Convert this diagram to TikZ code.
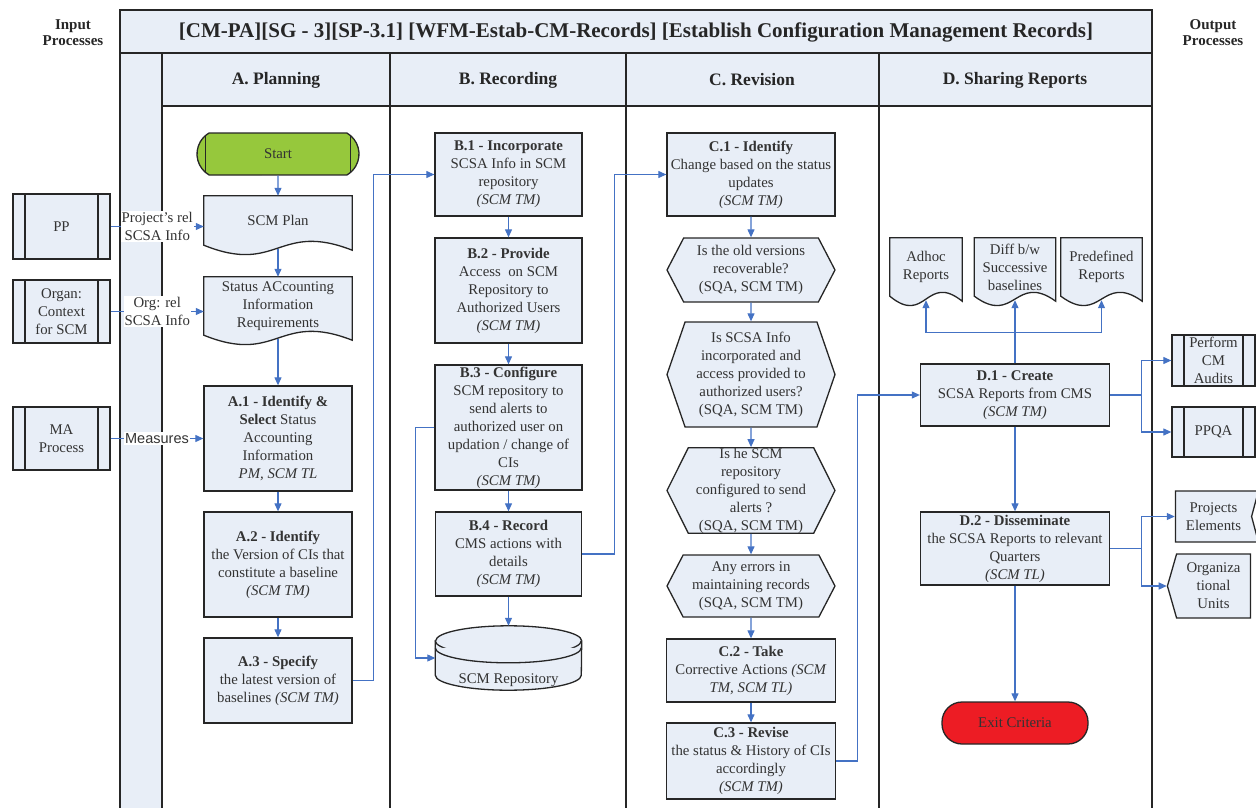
\documentclass[tikz,border=0pt]{standalone}
\usepackage{fontspec}
\setmainfont{Liberation Serif}
\newfontfamily\arialfont{Liberation Sans}
\usepackage{tikz}
\usetikzlibrary{arrows.meta}
\usetikzlibrary{shapes.geometric,shapes.symbols,shapes.misc,calc,backgrounds}

\definecolor{lanefill}{RGB}{232,238,247}
\definecolor{flowblue}{RGB}{68,114,196}
\definecolor{startgreen}{RGB}{150,200,60}
\definecolor{exitred}{RGB}{237,28,36}
\definecolor{framegray}{RGB}{38,38,38}
\definecolor{textgray}{RGB}{51,51,51}

\newcommand{\bodyfont}{\fontsize{14.8}{18}\selectfont}
\newcommand{\docshape}[1]{\filldraw[shapeline] (#1.north west) -- (#1.north east) -- ($(#1.south east)+(0,5)$) .. controls ($(#1.south)+(0,-24)$) and ($(#1.south)+(0,30)$) .. (#1.south west) -- cycle;}
\newcommand{\cylshape}[1]{%
  \filldraw[shapeline] ($(#1.north west)+(0,15)$) -- ($(#1.south west)+(0,-15)$) arc[start angle=180, end angle=360, x radius=73pt, y radius=15pt] -- ($(#1.north east)+(0,15)$) arc[start angle=0, end angle=180, x radius=73pt, y radius=15pt] -- cycle;
  \draw[shapeline] ($(#1.north west)+(0,15)$) arc[start angle=180, end angle=360, x radius=73pt, y radius=15pt];
  \draw[shapeline] ($(#1.north west)+(0,22)$) arc[start angle=180, end angle=360, x radius=73pt, y radius=15pt];}

\begin{document}
\begin{tikzpicture}[x=1pt, y=-1pt]
    \tikzstyle{block} = [rectangle, draw=framegray, line width=1.3pt, fill=lanefill, text=textgray, align=center, inner xsep=1pt, inner ysep=0pt, font=\bodyfont];
    \tikzstyle{decision} = [block, signal, signal to=west and east, signal from=nowhere, signal pointer angle=125, minimum width=168pt];
    \tikzstyle{procbox} = [block, path picture={\draw[framegray, line width=1.3pt] ([xshift=12pt]path picture bounding box.north west) -- ([xshift=12pt]path picture bounding box.south west) ([xshift=-12pt]path picture bounding box.north east) -- ([xshift=-12pt]path picture bounding box.south east);}];
    \tikzstyle{docnode} = [align=center, text=textgray, font=\bodyfont, inner sep=0pt];
    \tikzstyle{shapeline} = [draw=framegray, fill=lanefill, line width=1.3pt];
    \tikzstyle{line} = [draw=flowblue, line width=1.1pt, -{Triangle[length=8pt,width=7pt]}];
    \tikzstyle{frame} = [draw=framegray, line width=1.8pt];
    \tikzstyle{lbl} = [fill=white, text=textgray, align=center, font=\bodyfont, inner sep=1pt];
    \tikzstyle{headtxt} = [font=\fontsize{17.5}{20}\selectfont\bfseries, text=black!85];
    \tikzstyle{sidetxt} = [font=\fontsize{15}{16}\selectfont\bfseries, text=black!85, align=center];
    \useasboundingbox (0,0) rectangle (1256,808);

    \fill[lanefill] (120,10) rectangle (1152,53);
    \fill[lanefill] (162,53) rectangle (1152,106);
    \fill[lanefill] (120,53) rectangle (162,808);
    \draw[frame] (120,808) -- (120,10) -- (1152,10) -- (1152,808);
    \draw[frame] (120,53) -- (1152,53) (162,106) -- (1152,106);
    \foreach \x in {162,390,626,879} \draw[frame] (\x,53) -- (\x,808);

    \node[font=\fontsize{21}{24}\selectfont\bfseries, text=black!85] (title) at (636,32) {[CM-PA][SG - 3][SP-3.1] [WFM-Estab-CM-Records] [Establish Configuration Management Records]};
    \node[headtxt] (hplan) at (276,80) {A. Planning};
    \node[headtxt] (hrec) at (508,80) {B. Recording};
    \node[headtxt] (hrev) at (752,80) {C. Revision};
    \node[headtxt] (hshare) at (1015,80) {D. Sharing Reports};
    \node[sidetxt] (inhead) at (73,33) {Input\\Processes};
    \node[sidetxt] (outhead) at (1213,33) {Output\\Processes};

    \node[procbox, minimum width=97pt, minimum height=65pt] (pp) at (61.5,226.5) {PP};
    \node[procbox, minimum width=97pt, minimum height=63pt] (org) at (61.5,311.5) {Organ:\\Context\\for SCM};
    \node[procbox, minimum width=97pt, minimum height=63pt] (ma) at (61.5,438.5) {MA\\Process};

    \node[block, rounded rectangle, rounded rectangle arc length=120, fill=startgreen, minimum width=164pt, minimum height=42pt, path picture={\draw[framegray, line width=1.3pt] ([xshift=12pt]path picture bounding box.north west) -- ([xshift=12pt]path picture bounding box.south west) ([xshift=-12pt]path picture bounding box.north east) -- ([xshift=-12pt]path picture bounding box.south east);}] (start) at (278,154) {Start};
    \node[docnode, minimum width=148pt, minimum height=49pt] (plan) at (278,220.5) {SCM Plan};
    \node[docnode, minimum width=148pt, minimum height=58pt] (status) at (278,306) {Status ACcounting\\Information\\Requirements};
    \node[block, minimum width=148pt, minimum height=105pt] (a1) at (278,438.5) {\textbf{A.1 - Identify \&}\\\textbf{Select} Status\\Accounting\\Information\\\textit{PM, SCM TL}};
    \node[block, minimum width=148pt, minimum height=105pt] (a2) at (278,564.5) {\textbf{A.2 - Identify}\\the Version of CIs that\\constitute a baseline\\\textit{(SCM TM)}};
    \node[block, minimum width=148pt, minimum height=85pt] (a3) at (278,680.5) {\textbf{A.3 - Specify}\\the latest version of\\baselines \textit{(SCM TM)}};

    \node[block, minimum width=147pt, minimum height=83pt] (b1) at (508.5,174.5) {\textbf{B.1 - Incorporate}\\SCSA Info in SCM\\repository\\\textit{(SCM TM)}};
    \node[block, minimum width=147pt, minimum height=105pt] (b2) at (508.5,290.5) {\textbf{B.2 - Provide}\\Access~ on SCM\\Repository to\\Authorized Users\\\textit{(SCM TM)}};
    \node[block, minimum width=147pt, minimum height=125pt] (b3) at (508.5,427.5) {\textbf{B.3 - Configure}\\SCM repository to\\send alerts to\\authorized user on\\updation / change of\\CIs\\\textit{(SCM TM)}};
    \node[block, minimum width=146pt, minimum height=84pt] (b4) at (508.5,554) {\textbf{B.4 - Record}\\CMS actions with\\details\\\textit{(SCM TM)}};
    \node[docnode, minimum width=146pt, minimum height=64pt, label={[docnode, yshift=-22pt]center:SCM Repository}] (repo) at (508.5,658) {};

    \node[block, minimum width=168pt, minimum height=83pt] (c1) at (751,174.5) {\textbf{C.1 - Identify}\\Change based on the status\\updates\\\textit{(SCM TM)}};
    \node[decision, minimum height=64pt] (h1) at (751,270) {Is the old versions\\recoverable?\\(SQA, SCM TM)};
    \node[decision, signal pointer angle=142, minimum height=105pt] (h2) at (751,374.5) {Is SCSA Info\\incorporated and\\access provided to\\authorized users?\\(SQA, SCM TM)};
    \node[decision, signal pointer angle=127, minimum height=85pt] (h3) at (751,490.5) {Is he SCM\\repository\\configured to send\\alerts ?\\(SQA, SCM TM)};
    \node[decision, minimum height=62pt] (h4) at (751,586) {Any errors in\\maintaining records\\(SQA, SCM TM)};
    \node[block, minimum width=169pt, minimum height=63pt] (c2) at (751,670.5) {\textbf{C.2 - Take}\\Corrective Actions \textit{(SCM}\\\textit{TM, SCM TL)}};
    \node[block, minimum width=169pt, minimum height=76pt] (c3) at (751,761) {\textbf{C.3 - Revise}\\the status \& History of CIs\\accordingly\\\textit{(SCM TM)}};

    \node[docnode, minimum width=72pt, minimum height=58pt] (adhoc) at (926,267) {Adhoc\\Reports};
    \node[docnode, minimum width=81pt, minimum height=58pt] (diff) at (1015,267) {Diff b/w\\Successive\\baselines};
    \node[docnode, minimum width=81pt, minimum height=58pt] (predefrep) at (1101.5,267) {Predefined\\Reports};
    \node[block, minimum width=189pt, minimum height=62pt] (d1) at (1015,395) {\textbf{D.1 - Create}\\SCSA Reports from CMS\\\textit{(SCM TM)}};
    \node[block, minimum width=189pt, minimum height=73pt] (d2) at (1015,548.5) {\textbf{D.2 - Disseminate}\\the SCSA Reports to relevant\\Quarters\\\textit{(SCM TL)}};
    \node[block, rounded corners=20pt, fill=exitred, minimum width=146pt, minimum height=42pt] (exitc) at (1015,723) {Exit Criteria};

    \node[procbox, minimum width=83pt, minimum height=51pt] (audit) at (1213.5,360.5) {Perform\\CM\\Audits};
    \node[procbox, minimum width=83pt, minimum height=50pt] (ppqa) at (1213.5,432) {PPQA};
    \node[block, signal, signal from=east, signal to=nowhere, signal pointer angle=150, minimum width=83pt, minimum height=51pt] (proj) at (1213.5,516.5) {Projects\\Elements};
    \node[block, signal, signal to=west, signal from=nowhere, signal pointer angle=148, minimum width=83pt, minimum height=64pt] (orgu) at (1213.5,586) {Organiza\\tional\\Units};

    \begin{scope}[on background layer]
        \docshape{plan} \docshape{status}
        \docshape{adhoc} \docshape{diff} \docshape{predefrep}
        \cylshape{repo}
    \end{scope}

    \path[line] (pp.east) -- node[lbl] {Project’s rel\\SCSA Info} (pp -| plan.west);
    \path[line] (org.east) -- node[lbl] {Org: rel\\SCSA Info} (org -| status.west);
    \path[line] (ma.east) -- node[lbl, font=\arialfont\fontsize{14.5}{18}\selectfont] {Measures} (a1.west);
    \path[line] (start) -- (plan);
    \path[line] ($(plan.south)+(0,4)$) -- (status);
    \path[line] ($(status.south)+(0,4)$) -- (a1);
    \path[line] (a1) -- (a2);
    \path[line] (a2) -- (a3);
    \path[line] (a3.east) -- ++(21,0) |- (b1.west);
    \path[line] (b1) -- (b2);
    \path[line] (b2) -- (b3);
    \path[line] (b3) -- (b4);
    \path[line] (b4) -- (repo);
    \path[line] (b3.west) -- ++(-19,0) |- (repo.west);
    \path[line] (b4.east) -- ++(32,0) |- (c1.west);
    \path[line] (c1) -- (h1);
    \path[line] (h1) -- (h2);
    \path[line] (h2) -- (h3);
    \path[line] (h3) -- (h4);
    \path[line] (h4) -- (c2);
    \path[line] (c2) -- (c3);
    \path[line] (c3.east) -- ++(21,0) |- (d1.west);
    \path[line] (d1.north) -- ++(0,-31) -| ($(adhoc.south)+(0,4)$);
    \path[line] (d1.north) -- ($(diff.south)+(0,4)$);
    \path[line] (d1.north) -- ++(0,-31) -| ($(predefrep.south)+(0,4)$);
    \path[line] (d1.east) -- ++(31,0) |- (audit.west);
    \path[line] (d1.east) -- ++(31,0) |- (ppqa.west);
    \path[line] (d1) -- (d2);
    \path[line] (d2.east) -- ++(31,0) |- (proj.west);
    \path[line] (d2.east) -- ++(31,0) |- (orgu.west);
    \path[line] (d2) -- (exitc);
\end{tikzpicture}
\end{document}
